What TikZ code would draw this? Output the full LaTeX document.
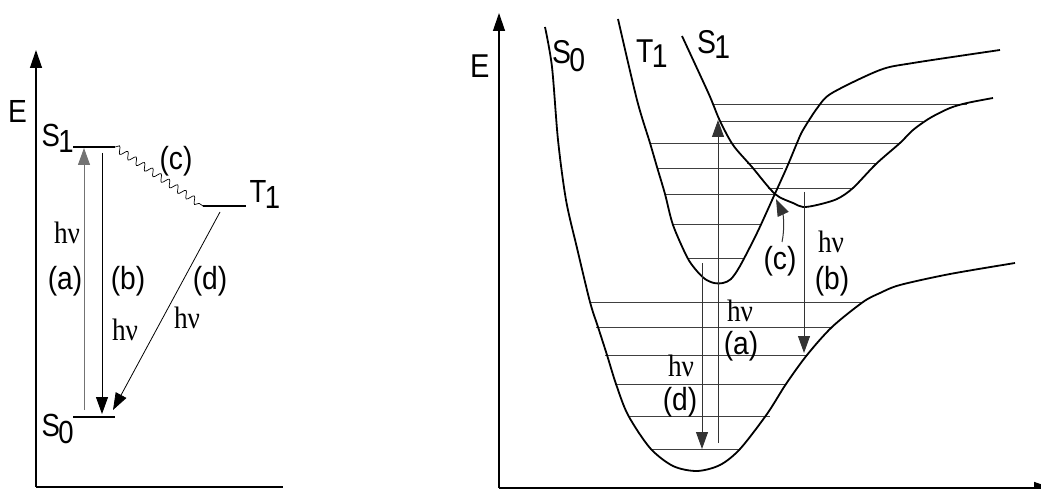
\documentclass[tikz,border=0pt]{standalone}
\usepackage{fontspec}
\setmainfont{Liberation Sans}
\newfontfamily\serifhv{Liberation Serif}
\usetikzlibrary{arrows.meta,decorations.pathmorphing}
\newcommand\stsub[3][-6pt]{\scalebox{0.86}[1]{#2\kern-2pt\raisebox{#1}{#3}}}
\newcommand\nar[1]{\scalebox{0.88}[1]{#1}}
\begin{document}
\begin{tikzpicture}[x=1pt,y=-1pt,
  lbl/.style={inner sep=0pt,font=\fontsize{32}{32}\selectfont},
  lblr/.style={inner sep=0pt,font=\fontsize{33}{33}\selectfont},
  hvl/.style={inner sep=0pt,font=\fontsize{31}{31}\selectfont\serifhv},
  axis/.style={line width=1.3pt},
  axisarrow/.style={axis,-{Triangle[length=18pt,width=12pt]}},
  lvl/.style={line width=2.4pt},
  pes/.style={line width=1.8pt,line join=round},
  vib/.style={line width=0.9pt,black!75},
  tr/.style={line width=1pt,-{Triangle[length=17pt,width=12pt]}},
  wavy/.style={line width=0.7pt,decorate,decoration={snake,amplitude=3.5pt,segment length=10pt}}]
\useasboundingbox (0,0) rectangle (1041,489);
% ---------------- left panel ----------------
\coordinate (lo) at (36,487);
\coordinate (ltop) at (36,50);
\coordinate (lright) at (283,487);
\draw[axisarrow] (lo) -- (ltop);
\draw[axis] (lo) -- (lright);
\node[lbl,anchor=base west] (lE) at (8,123) {\nar{E}};
% levels
\coordinate (s1a) at (73,147); \coordinate (s1b) at (115,147);
\coordinate (s0a) at (73,417); \coordinate (s0b) at (115,417);
\coordinate (t1a) at (203,206); \coordinate (t1b) at (246,206);
\draw[lvl] (s1a) -- (s1b);
\draw[lvl] (s0a) -- (s0b);
\draw[lvl] (t1a) -- (t1b);
\node[lbl,anchor=base west] (lS1) at (41.5,147) {\stsub{S}{1}};
\node[lbl,anchor=base west] (lS0) at (41.5,436) {\stsub[-7pt]{S}{0}};
\node[lbl,anchor=base west] (lT1) at (249.5,203) {\stsub[-6pt]{T}{1}};
% transitions
\coordinate (aA) at (84,410); \coordinate (aB) at (84,148);
\coordinate (bA) at (102,153); \coordinate (bB) at (102,414);
\coordinate (dA) at (220,212); \coordinate (dB) at (113,410);
\draw[tr,black!55] (aA) -- (aB);
\draw[tr] (bA) -- (bB);
\draw[tr,line width=0.8pt] (dA) -- (dB);
\draw[wavy] (s1b) -- (t1a);
\node[hvl] (lhva) at (67,233) {\nar{hν}};
\node[lbl] (lla) at (65,281) {\nar{(a)}};
\node[lbl] (llb) at (128,281) {\nar{(b)}};
\node[hvl] (lhvb) at (125,330) {\nar{hν}};
\node[lbl] (lld) at (210,281) {\nar{(d)}};
\node[hvl] (lhvd) at (187,318) {\nar{hν}};
\node[lbl] (llc) at (176,161) {\nar{(c)}};
% ---------------- right panel ----------------
\coordinate (ro) at (499,488);
\coordinate (rtop) at (499,13);
\coordinate (rright) at (1052,488);
\draw[axisarrow] (ro) -- (rtop);
\draw[axisarrow] (ro) -- (rright);
\node[lblr,anchor=base west] (rE) at (470,78) {\nar{E}};
\node[lblr,anchor=base west] (rS0) at (552,64) {\stsub[-8pt]{S}{0}};
\node[lblr,anchor=base west] (rT1) at (636,63) {\stsub[-5pt]{T}{1}};
\node[lblr,anchor=base west] (rS1) at (697,54) {\stsub[-5pt]{S}{1}};
% vibrational levels S0
\draw[vib] (590,302) -- (863,302);
\draw[vib] (596,327) -- (832,327);
\draw[vib] (605,355) -- (807,355);
\draw[vib] (615,384) -- (785,384);
\draw[vib] (628,416) -- (770,416);
\draw[vib] (650,449) -- (740,449);
% T1 levels
\draw[vib] (650,143) -- (900,143);
\draw[vib] (657,168) -- (783,168);
\draw[vib] (665,194) -- (777,194);
\draw[vib] (673,224) -- (760,224);
\draw[vib] (687,258) -- (743,258);
% S1 levels
\draw[vib] (713,104) -- (967,104);
\draw[vib] (720,121) -- (923,121);
\draw[vib] (747,163) -- (875,163);
\draw[vib] (768,188) -- (851,188);
% potential curves
\draw[pes] plot[smooth,tension=0.5] coordinates {(545,27) (552,67) (558,140) (566,200) (577,248) (590,302) (598,327) (607,355) (616,384) (628,415) (650,448) (673,466) (697,471) (720,465) (740,449) (767,414) (786,384) (807,355) (832,327) (863,302) (880,293) (900,285) (950,274) (1015,263)};
\draw[pes] plot[smooth,tension=0.5] coordinates {(618,19) (637,100) (650,143) (657,167) (665,194) (673,225) (687,257) (696,270) (705,279) (714,283) (723,283) (731,279) (740,266) (757,233) (773,198) (787,167) (797,143) (803,130) (818,107) (832,93) (880,70) (913,63) (1000,50)};
\draw[pes] plot[smooth,tension=0.5] coordinates {(682,36) (707,90) (713,104) (720,121) (733,145) (752,167) (775,194) (793,203) (803,207) (817,205) (837,199) (853,188) (876,164) (900,143) (913,130) (930,118) (950,108) (967,103) (993,98)};
% transitions
\coordinate (raA) at (718,443); \coordinate (raB) at (718,120);
\coordinate (rdA) at (702,263); \coordinate (rdB) at (702,449);
\coordinate (rbA) at (804,192); \coordinate (rbB) at (804,353);
\coordinate (rcA) at (782,242); \coordinate (rcB) at (776,199);
\draw[tr,black!80] (raA) -- (raB);
\draw[tr,black!80] (rdA) -- (rdB);
\draw[tr,black!80] (rbA) -- (rbB);
\draw[tr,black!80] (rcA) .. controls (785,228) and (783,214) .. (rcB);
\node[lbl] (rlc) at (780,261) {\nar{(c)}};
\node[hvl] (rhvb) at (831,242) {\nar{hν}};
\node[lbl] (rlb) at (832,281) {\nar{(b)}};
\node[hvl] (rhva) at (740,311) {\nar{hν}};
\node[lbl] (rla) at (741,346) {\nar{(a)}};
\node[hvl] (rhvd) at (681,366) {\nar{hν}};
\node[lbl] (rld) at (680,402) {\nar{(d)}};
\end{tikzpicture}
\end{document}
